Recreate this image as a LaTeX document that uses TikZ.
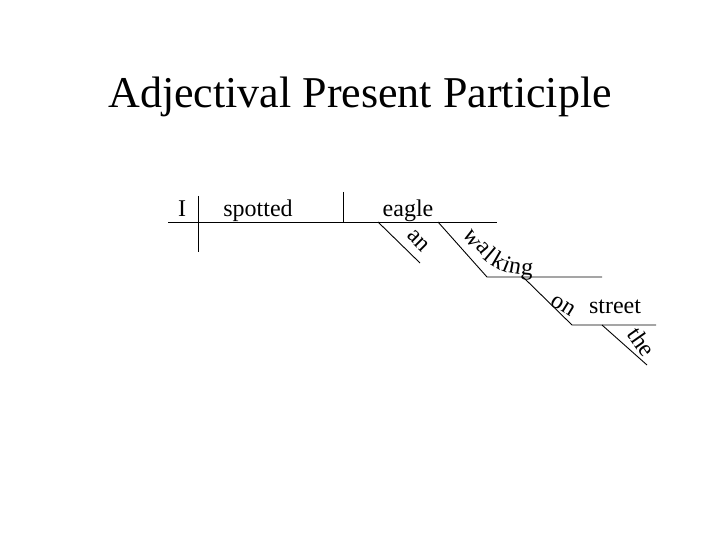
\documentclass[tikz,border=0pt]{standalone}
\usepackage{fontspec}
\setmainfont{Liberation Serif}
\begin{document}
\begin{tikzpicture}[x=1pt,y=-1pt,
  dline/.style={line width=0.9pt,black},
  word/.style={font=\fontsize{24}{28}\selectfont,inner sep=0pt,anchor=base},
  sword/.style={font=\fontsize{24}{28}\selectfont,inner sep=0pt,anchor=center}]
\useasboundingbox (0,0) rectangle (720,540);
\node[font=\fontsize{44}{50}\selectfont,inner sep=0pt,anchor=base] (title) at (360,108) {Adjectival Present Participle};
% coordinates
\coordinate (m0) at (168,222);
\coordinate (m1) at (497,222);
\coordinate (d1t) at (198,196);
\coordinate (d1b) at (198,252);
\coordinate (d2t) at (343,192);
\coordinate (d2b) at (343,222);
\coordinate (a0) at (378,222);
\coordinate (a1) at (420,263);
\coordinate (w0) at (438,222);
\coordinate (w1) at (487,277);
\coordinate (w2) at (602,277);
\coordinate (o0) at (523,277);
\coordinate (o1) at (572,325);
\coordinate (o2) at (656,325);
\coordinate (t0) at (602,325);
\coordinate (t1) at (647,365);
\draw[dline] (m0) -- (m1);
\draw[dline] (d1t) -- (d1b);
\draw[dline] (d2t) -- (d2b);
\draw[dline] (a0) -- (a1);
\draw[dline] (w0) -- (w1) -- (w2);
\draw[dline] (o0) -- (o1) -- (o2);
\draw[dline] (t0) -- (t1);
% words
\node[word] (i) at (182,217) {I};
\node[word] (spotted) at (258,217) {spotted};
\node[word] (eagle) at (408,217) {eagle};
\node[word] (street) at (615,313) {street};
\node[sword,rotate=-45] (an) at (418,241) {an};
\node[sword,rotate=-32] (on) at (563,306) {on};
\node[sword,rotate=-55] (the) at (642,342) {the};
\node[sword,rotate=-58] (lw) at (472,239) {w};
\node[sword,rotate=-50] (la) at (483,248) {a};
\node[sword,rotate=-40] (ll) at (490,254) {l};
\node[sword,rotate=-30] (lk) at (499,260) {k};
\node[sword,rotate=-22] (li) at (507,264) {i};
\node[sword,rotate=-10] (ln) at (515,268) {n};
\node[sword,rotate=-5] (lg) at (527,271) {g};
\end{tikzpicture}
\end{document}
